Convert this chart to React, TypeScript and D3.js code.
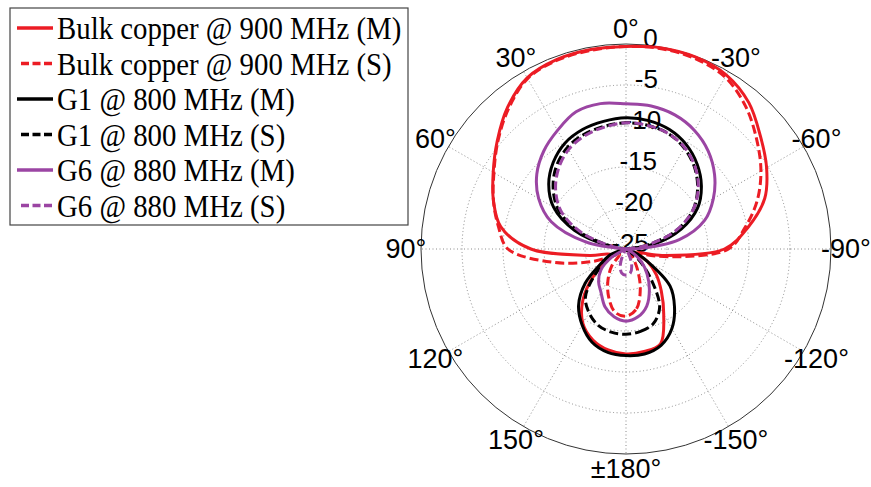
import React, { useEffect, useRef } from 'react';
import * as d3 from 'd3';

// angle (deg, 0 at top, positive counter-clockwise) of each sample
const angles = [
  -180, -170, -160, -150, -140, -130, -120, -110, -100, -90, -80, -70,
  -60, -50, -40, -30, -20, -10, 0, 10, 20, 30, 40, 50,
  60, 70, 80, 90, 100, 110, 120, 130, 140, 150, 160, 170,
];

// gain in dB at each angle
const bulkM = [
  -12.2, -12.3, -12.7, -15.8, -18.3, -20.2, -22.0, -23.5, -20.5, -13.0, -9.9, -7.0,
  -5.2, -3.6, -1.7, -0.5, -0.1, -0.1, -0.3, -0.3, -0.4, -0.9, -2.5, -4.5,
  -6.3, -7.8, -9.5, -13.4, -20.5, -23.0, -22.5, -19.8, -16.8, -14.5, -13.2, -12.5,
];
const bulkS = [
  -16.8, -17.6, -19.9, -22.3, -23.8, -24.5, -24.5, -23.5, -19.5, -12.5, -10.3, -8.0,
  -6.0, -4.2, -2.3, -0.8, -0.3, -0.2, -0.3, -0.4, -0.5, -1.0, -2.7, -4.6,
  -6.4, -7.8, -9.2, -10.6, -15.8, -20.5, -23.5, -24.0, -22.3, -20.6, -18.8, -17.2,
];
const g1M = [
  -12.0, -12.0, -12.5, -13.8, -15.8, -18.0, -22.0, -24.0, -25, -25, -21.5, -17.8,
  -14.9, -13.0, -11.5, -10.3, -9.5, -9.1, -9.0, -9.2, -9.5, -10.1, -11.2, -12.7,
  -14.8, -18.3, -23.0, -25, -25, -23.0, -21.5, -18.5, -16.0, -14.3, -12.9, -12.2,
];
const g1S = [
  -14.6, -14.8, -15.3, -16.8, -20.3, -23.0, -25, -25, -25, -25, -22.5, -18.5,
  -15.6, -13.6, -12.0, -10.8, -10.0, -9.7, -9.6, -9.8, -10.1, -10.7, -11.8, -13.4,
  -15.5, -19.0, -23.5, -25, -25, -25, -22.5, -20.0, -17.3, -16.0, -15.1, -14.7,
];
const g6M = [
  -16.2, -16.6, -17.6, -19.3, -21.0, -22.5, -24.0, -25, -25, -24.0, -18.4, -14.8,
  -12.7, -10.9, -9.4, -8.3, -7.6, -7.3, -7.3, -7.0, -7.2, -8.3, -9.4, -10.8,
  -12.7, -15.3, -20.0, -25, -25, -25, -23.0, -21.0, -19.8, -18.9, -17.5, -16.6,
];
const g6S = [
  -21.8, -22.0, -23.0, -24.5, -25, -25, -25, -25, -25, -25, -22.5, -18.6,
  -15.6, -13.5, -11.9, -10.7, -10.0, -9.7, -9.6, -9.9, -10.3, -11.0, -12.2, -13.8,
  -15.9, -19.3, -23.5, -25, -25, -25, -25, -25, -25, -24.5, -23.0, -22.0,
];

const seriesNames = [
  'Bulk copper @ 900 MHz (M)',
  'Bulk copper @ 900 MHz (S)',
  'G1 @ 800 MHz (M)',
  'G1 @ 800 MHz (S)',
  'G6 @ 880 MHz (M)',
  'G6 @ 880 MHz (S)',
];
const seriesValues = [bulkM, bulkS, g1M, g1S, g6M, g6S];
const seriesColors = ['#ec1c24', '#ec1c24', '#000000', '#000000', '#9b45a3', '#9b45a3'];
const seriesDashed = [false, true, false, true, false, true];

const radialTicks = [0, -5, -10, -15, -20, -25];
const spokeAngles = [0, 30, 60, 90, 120, 150, 180, -150, -120, -90, -60, -30];
const spokeLabels = ['0°', '30°', '60°', '90°', '120°', '150°', '±180°', '-150°', '-120°', '-90°', '-60°', '-30°'];

const App = () => {
  const ref = useRef<SVGSVGElement>(null);

  useEffect(() => {
    const svg = d3.select(ref.current);
    svg.selectAll('*').remove();

    const cx = 626;
    const cy = 249;
    const R = 205;
    const rad = (deg: number) => (deg * Math.PI) / 180;

    const r = d3.scaleLinear().domain([-25, 0]).range([0, R]).clamp(true);

    const g = svg.append('g').attr('transform', `translate(${cx},${cy})`);

    // dotted rings
    g.selectAll('circle.ring')
      .data(radialTicks.filter(v => v > -25 && v < 0))
      .enter()
      .append('circle')
      .attr('class', 'ring')
      .attr('r', d => r(d))
      .attr('fill', 'none')
      .attr('stroke', '#8a8a8a')
      .attr('stroke-width', 1)
      .attr('stroke-dasharray', '1,2.5');

    // spokes
    g.selectAll('line.spoke')
      .data(spokeAngles)
      .enter()
      .append('line')
      .attr('class', 'spoke')
      .attr('x1', 0)
      .attr('y1', 0)
      .attr('x2', d => -R * Math.sin(rad(d)))
      .attr('y2', d => -R * Math.cos(rad(d)))
      .attr('stroke', '#8a8a8a')
      .attr('stroke-width', 1)
      .attr('stroke-dasharray', '1,2.5');

    // outer circle
    g.append('circle')
      .attr('r', R)
      .attr('fill', 'none')
      .attr('stroke', '#333')
      .attr('stroke-width', 1);

    // angle labels
    const labR = R + 15;
    g.selectAll('text.ang')
      .data(spokeAngles)
      .enter()
      .append('text')
      .attr('class', 'ang')
      .attr('x', d => -labR * Math.sin(rad(d)))
      .attr('y', d => -labR * Math.cos(rad(d)))
      .attr('text-anchor', 'middle')
      .attr('dominant-baseline', 'central')
      .style('font-family', 'Liberation Sans, Arial, sans-serif')
      .style('font-size', '27px')
      .text((d, i) => spokeLabels[i]);

    // radial labels
    g.selectAll('text.rad')
      .data(radialTicks)
      .enter()
      .append('text')
      .attr('class', 'rad')
      .attr('x', d => 4 + r(d) * 0.1)
      .attr('y', d => -r(d) - 6)
      .attr('text-anchor', 'middle')
      .attr('dominant-baseline', 'central')
      .style('font-family', 'Liberation Sans, Arial, sans-serif')
      .style('font-size', '26px')
      .text(d => String(d));

    // pattern curves
    const line = d3.lineRadial<number>()
      .angle((d, i) => -rad(angles[i]))
      .radius(d => r(d))
      .curve(d3.curveCatmullRomClosed.alpha(0.5));

    seriesValues.forEach((vals, k) => {
      g.append('path')
        .datum(vals)
        .attr('d', line)
        .attr('fill', 'none')
        .attr('stroke', seriesColors[k])
        .attr('stroke-width', 3)
        .attr('stroke-linejoin', 'round')
        .attr('stroke-dasharray', seriesDashed[k] ? '9,4' : null);
    });

    // legend
    const lg = svg.append('g');
    lg.append('rect')
      .attr('x', 10)
      .attr('y', 8)
      .attr('width', 398)
      .attr('height', 217)
      .attr('fill', '#fff')
      .attr('stroke', '#444')
      .attr('stroke-width', 1.2);

    const rowY = d3.scaleLinear().domain([0, 5]).range([39, 216.5]);

    seriesNames.forEach((name, i) => {
      const by = rowY(i);
      lg.append('line')
        .attr('x1', seriesDashed[i] ? 21 : 17)
        .attr('x2', 53)
        .attr('y1', by - 11)
        .attr('y2', by - 11)
        .attr('stroke', seriesColors[i])
        .attr('stroke-width', 3.5)
        .attr('stroke-dasharray', seriesDashed[i] ? '8,3.5' : null);
      lg.append('g')
        .attr('transform', `translate(57,${by}) scale(0.93,1)`)
        .append('text')
        .style('font-family', 'Liberation Serif, Times New Roman, serif')
        .style('font-size', '31px')
        .text(name);
    });
  }, []);

  return (
    <svg
      ref={ref}
      width={871}
      height={487}
      style={{ position: 'absolute', left: 0, top: 0, background: '#fff' }}
    />
  );
};

export default App;
